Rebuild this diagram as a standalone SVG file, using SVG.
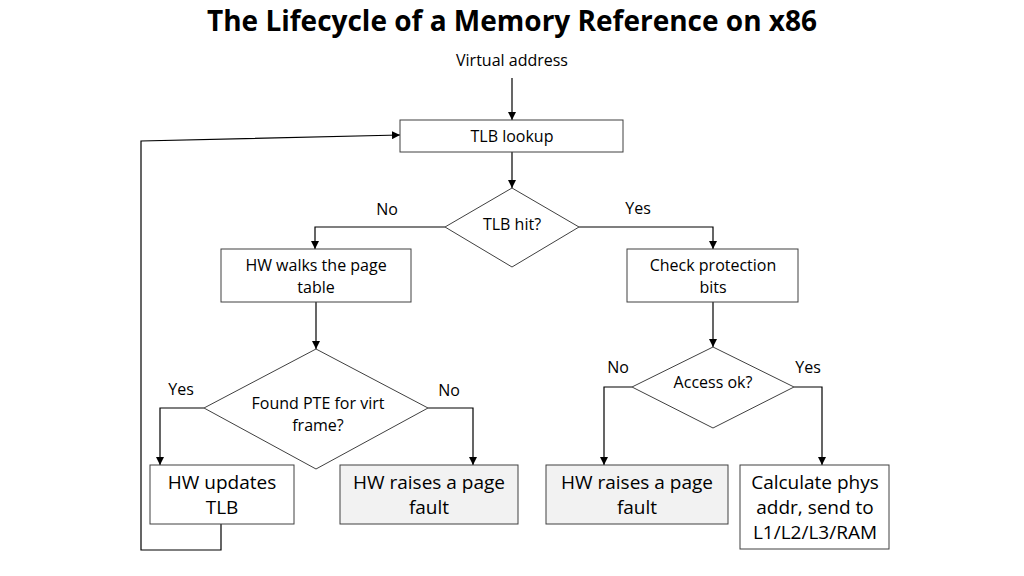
<svg xmlns="http://www.w3.org/2000/svg" width="1024" height="576" viewBox="0 0 1024 576">
<defs><marker id="a" viewBox="0 0 10 10" refX="10" refY="5" markerWidth="8" markerHeight="8" markerUnits="userSpaceOnUse" orient="auto"><path d="M0,0L10,5L0,10z" fill="#000"/></marker>
<style>
text{font-family:"Open Sans","Noto Sans",sans-serif;fill:#000;text-anchor:middle}
.s{font-size:16px}.m{font-size:19px}
.b{fill:#fff;stroke:#404040;stroke-width:1}.g{fill:#f2f2f2;stroke:#404040;stroke-width:1}
.c path{fill:none;stroke:#000;stroke-width:1.2}
</style></defs>
<rect width="1024" height="576" fill="#fff"/>
<text x="512" y="31" style="font-size:28px;font-weight:bold">The Lifecycle of a Memory Reference on x86</text>
<text x="512" y="66" class="s">Virtual address</text>
<g class="c">
<path d="M512,78V120" marker-end="url(#a)"/>
<path d="M512,152V188" marker-end="url(#a)"/>
<path d="M445,227H315V249" marker-end="url(#a)"/>
<path d="M579,227H713V249" marker-end="url(#a)"/>
<path d="M316,302V349" marker-end="url(#a)"/>
<path d="M204,408H160V465" marker-end="url(#a)"/>
<path d="M428,408H473V465" marker-end="url(#a)"/>
<path d="M713,302V347" marker-end="url(#a)"/>
<path d="M632,387H604V465" marker-end="url(#a)"/>
<path d="M794,387H822V465" marker-end="url(#a)"/>
<path d="M221,524V550H141V141L400,135" marker-end="url(#a)"/>
</g>
<g id="n1"><rect class="b" x="400" y="120" width="223" height="32"/><text x="512" y="142" class="s">TLB lookup</text></g>
<g id="n2"><path class="b" d="M512,188L579,227L512,267L445,227Z"/><text x="512" y="230" class="s">TLB hit?</text></g>
<text x="387" y="215" class="s">No</text><text x="638" y="214" class="s">Yes</text>
<g id="n3"><rect class="b" x="221" y="249" width="190" height="53"/><text x="316" y="271" class="s">HW walks the page</text><text x="316" y="293" class="s">table</text></g>
<g id="n4"><rect class="b" x="627" y="249" width="171" height="53"/><text x="713" y="271" class="s">Check protection</text><text x="713" y="293" class="s">bits</text></g>
<g id="n5"><path class="b" d="M316,349L428,408L316,469L204,408Z"/><text x="318" y="409" class="s">Found PTE for virt</text><text x="318" y="431" class="s">frame?</text></g>
<text x="181" y="395" class="s">Yes</text><text x="449" y="396" class="s">No</text>
<g id="n6"><path class="b" d="M713,347L794,387L713,428L632,387Z"/><text x="713" y="388" class="s">Access ok?</text></g>
<text x="618" y="373" class="s">No</text><text x="808" y="373" class="s">Yes</text>
<g id="n7"><rect class="b" x="150" y="465" width="144" height="59"/><text x="222" y="489" class="m">HW updates</text><text x="222" y="514" class="m">TLB</text></g>
<g id="n8"><rect class="g" x="340" y="465" width="178" height="59"/><text x="429" y="489" class="m">HW raises a page</text><text x="429" y="514" class="m">fault</text></g>
<g id="n9"><rect class="g" x="546" y="465" width="182" height="59"/><text x="637" y="489" class="m">HW raises a page</text><text x="637" y="514" class="m">fault</text></g>
<g id="n10"><rect class="b" x="740" y="465" width="149" height="84"/><text x="815" y="489" class="m">Calculate phys</text><text x="815" y="514" class="m">addr, send to</text><text x="815" y="539" class="m">L1/L2/L3/RAM</text></g>
</svg>
